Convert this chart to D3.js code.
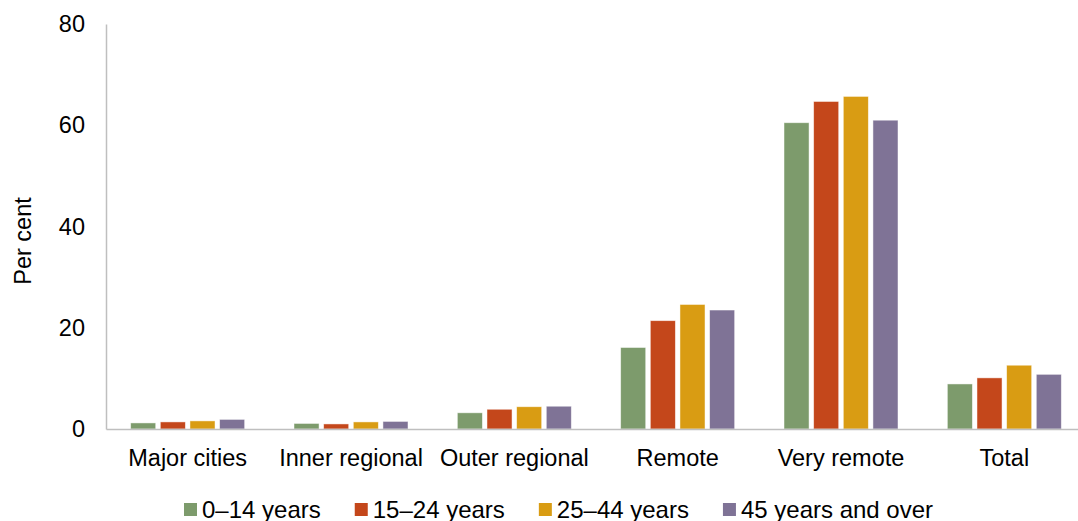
<!DOCTYPE html>
<html>
<head>
<meta charset="utf-8">
<script src="https://cdn.jsdelivr.net/npm/d3@7"></script>
<style>
  body { margin: 0; background: #fff; }
  svg { display: block; font-family: "Liberation Sans", Arial, sans-serif; }
</style>
</head>
<body>
<div id="chart"></div>
<script>
'use strict';

var categories = ['Major cities', 'Inner regional', 'Outer regional', 'Remote', 'Very remote', 'Total'];
var seriesNames = ['0\u201314 years', '15\u201324 years', '25\u201344 years', '45 years and over'];
var age0to14 = [1.2, 1.1, 3.2, 16.1, 60.5, 8.9];
var age15to24 = [1.4, 1.0, 3.9, 21.4, 64.7, 10.1];
var age25to44 = [1.6, 1.4, 4.4, 24.6, 65.7, 12.6];
var age45plus = [1.9, 1.5, 4.5, 23.5, 61.0, 10.8];
var yTicks = [0, 20, 40, 60, 80];
var colors = ['#7D9B6C', '#C4471B', '#D99C13', '#7F7396'];

var W = 1078, H = 521;
var plotLeft = 106, plotRight = 1086, plotTop = 24, plotBottom = 429;
var fontSize = 23.5;
var legendFontSize = 24;

var allSeries = [age0to14, age15to24, age25to44, age45plus];

var svg = d3.select('#chart').append('svg')
    .attr('width', W)
    .attr('height', H);

var x0 = d3.scaleBand().domain(categories).range([plotLeft, plotRight]);
var x1 = d3.scaleBand().domain(seriesNames)
    .range([x0.bandwidth() / 2 - 57, x0.bandwidth() / 2 + 57])
    .paddingInner(0.155);
var y = d3.scaleLinear().domain([0, 80]).range([plotBottom, plotTop]);

// bars
var groups = svg.selectAll('g.cat')
    .data(categories)
    .enter()
    .append('g')
    .attr('class', 'cat')
    .attr('transform', function (d) { return 'translate(' + x0(d) + ',0)'; });

groups.selectAll('rect')
    .data(function (d, i) {
        return seriesNames.map(function (s, j) {
            return { series: s, value: allSeries[j][i], color: colors[j] };
        });
    })
    .enter()
    .append('rect')
    .attr('x', function (d) { return x1(d.series); })
    .attr('y', function (d) { return y(d.value); })
    .attr('width', x1.bandwidth())
    .attr('height', function (d) { return plotBottom - y(d.value); })
    .attr('fill', function (d) { return d.color; })
    .attr('stroke', '#fff')
    .attr('stroke-opacity', 0.6)
    .attr('stroke-width', 0.8);

// y axis
var yAxis = svg.append('g')
    .attr('transform', 'translate(' + plotLeft + ',0)')
    .call(d3.axisLeft(y).tickValues(yTicks).tickSize(0).tickPadding(21));
yAxis.select('.domain').attr('stroke', '#BFBFBF').attr('stroke-width', 1.5);
yAxis.selectAll('text')
    .attr('font-size', fontSize)
    .attr('font-family', '"Liberation Sans", Arial, sans-serif')
    .attr('fill', '#000');

// x axis
var xAxis = svg.append('g')
    .attr('transform', 'translate(0,' + plotBottom + ')')
    .call(d3.axisBottom(x0).tickSize(0).tickPadding(20.5));
xAxis.select('.domain').attr('stroke', '#BFBFBF').attr('stroke-width', 1.5);
xAxis.selectAll('text')
    .attr('font-size', fontSize)
    .attr('font-family', '"Liberation Sans", Arial, sans-serif')
    .attr('fill', '#000');

// y label
svg.append('text')
    .attr('transform', 'translate(31,241) rotate(-90)')
    .attr('text-anchor', 'middle')
    .attr('font-size', fontSize)
    .attr('fill', '#000')
    .text('Per cent');

// legend
var legend = svg.append('g').attr('transform', 'translate(184,0)');
var lx = 0;
seriesNames.forEach(function (name, i) {
    var item = legend.append('g').attr('transform', 'translate(' + lx + ',0)');
    item.append('rect')
        .attr('x', 0)
        .attr('y', 503)
        .attr('width', 13)
        .attr('height', 13)
        .attr('fill', colors[i]);
    var t = item.append('text')
        .attr('x', 18)
        .attr('y', 517.5)
        .attr('font-size', legendFontSize)
        .attr('fill', '#000')
        .text(name);
    lx += 18 + t.node().getComputedTextLength() + 34;
});
</script>
</body>
</html>
